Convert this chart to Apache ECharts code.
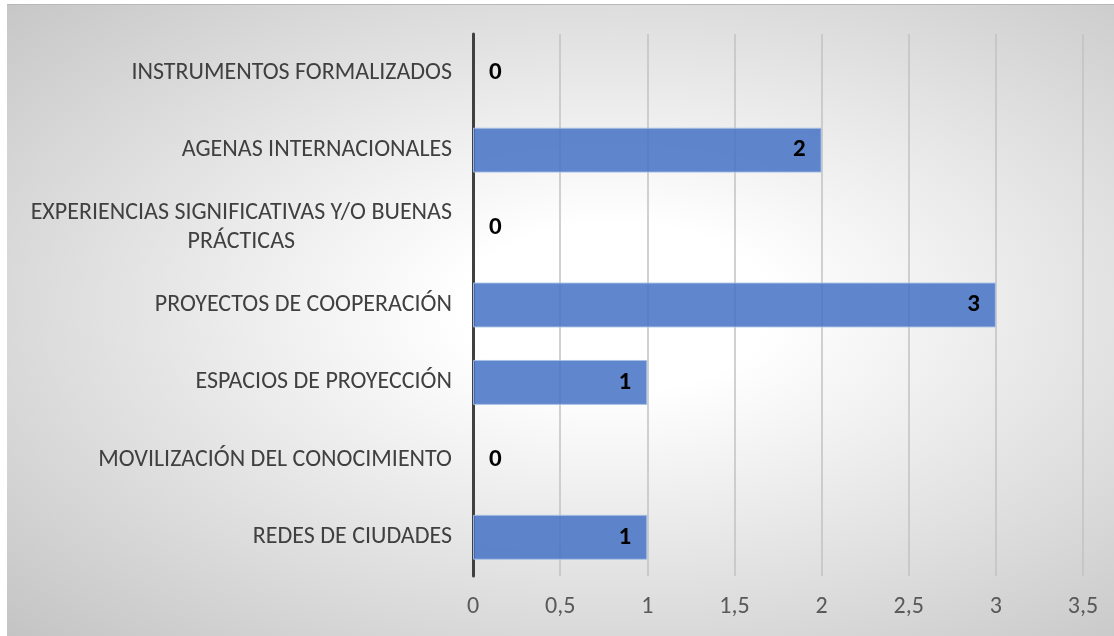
<!DOCTYPE html>
<html>
<head>
<meta charset="utf-8">
<script src="https://cdn.jsdelivr.net/npm/echarts@6/dist/echarts.min.js"></script>
<style>
  html, body { margin: 0; padding: 0; background: #fff; }
  #panel {
    position: absolute; left: 7px; top: 4px; right: 0; bottom: 0;
    border-top: 1px solid #b8b8b8;
    background: radial-gradient(ellipse at 55% 48%, #ffffff 18%, #c4c4c4 100%);
  }
  #main { position: absolute; left: 0; top: 0; width: 1114px; height: 636px; }
</style>
</head>
<body>
<div id="panel"></div>
<div id="main"></div>
<script>
// categorias de arriba hacia abajo
const categories = [
  'INSTRUMENTOS FORMALIZADOS',
  'AGENAS INTERNACIONALES',
  'EXPERIENCIAS SIGNIFICATIVAS Y/O BUENAS\nPRÁCTICAS',
  'PROYECTOS DE COOPERACIÓN',
  'ESPACIOS DE PROYECCIÓN',
  'MOVILIZACIÓN DEL CONOCIMIENTO',
  'REDES DE CIUDADES'
]
const values = [0, 2, 0, 3, 1, 0, 1]
const xTicks = [0, 0.5, 1, 1.5, 2, 2.5, 3, 3.5]

const font = 'Carlito, Lato, sans-serif'

let myChart = echarts.init(document.getElementById('main'))

const option = {
  backgroundColor: 'transparent',
  animation: false,
  grid: { left: 473, right: 31, top: 34, bottom: 60 },
  xAxis: {
    type: 'value',
    min: xTicks[0],
    max: xTicks[xTicks.length - 1],
    interval: 0.5,
    axisLine: { show: false },
    axisTick: { show: false },
    splitLine: { show: true, lineStyle: { color: '#c2c2c2', width: 1.5 } },
    axisLabel: {
      margin: 19,
      fontFamily: font,
      fontSize: 24,
      color: '#595959',
      formatter: (v) => String(v).replace('.', ',')
    }
  },
  yAxis: {
    type: 'category',
    inverse: true,
    data: categories,
    axisLine: { show: true, lineStyle: { color: '#404040', width: 3 } },
    axisTick: { show: false },
    axisLabel: {
      margin: 21,
      align: 'right',
      formatter: (v) => v.split('\n').map((s) => '{c|' + s + '}').join('\n'),
      rich: {
        c: { align: 'center', fontFamily: font, fontSize: 24, color: '#404040', lineHeight: 29 }
      }
    }
  },
  series: [
    {
      type: 'bar',
      barCategoryGap: '42%',
      itemStyle: {
        color: 'rgba(68,114,196,0.85)'
      },
      data: values.map((v) => ({
        value: v,
        itemStyle: {
          borderColor: 'rgba(170,192,230,0.9)',
          borderWidth: v === 0 ? 0 : 1
        },
        label: {
          show: true,
          position: v === 0 ? 'right' : 'insideRight',
          distance: 16,
          fontFamily: font,
          fontWeight: 'bold',
          fontSize: 25,
          color: '#000'
        }
      }))
    }
  ]
}

myChart.setOption(option)
</script>
</body>
</html>
